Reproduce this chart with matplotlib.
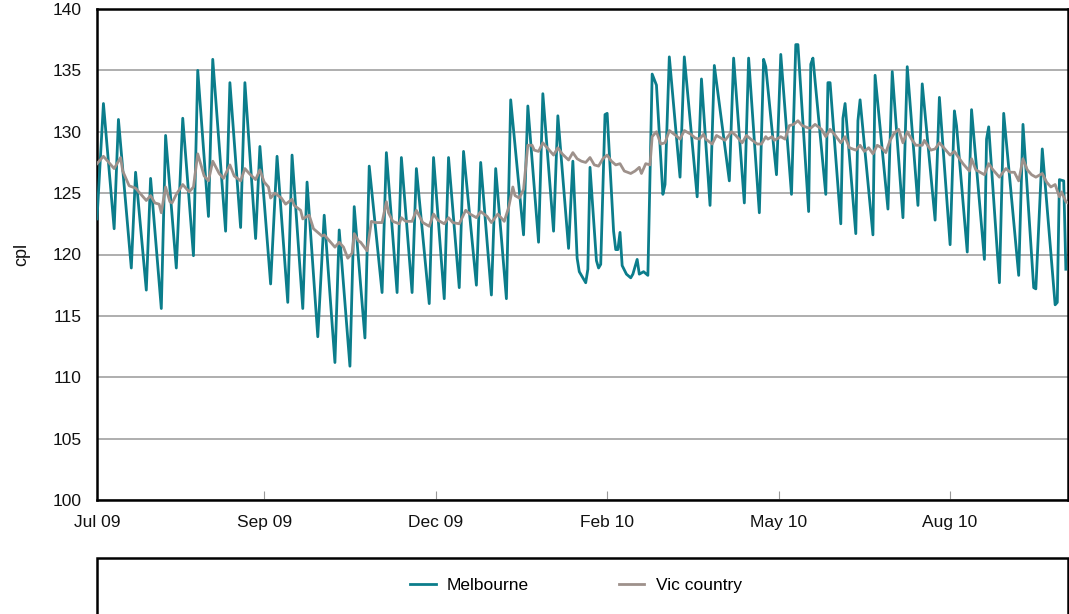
import numpy as np
import pandas as pd
import matplotlib
matplotlib.use("Agg")
import matplotlib.pyplot as plt
from matplotlib.patches import Rectangle

plt.rcParams['font.family'] = ['Liberation Sans', 'DejaVu Sans']

START = pd.Timestamp("2009-07-03")

# Melbourne: day offset from START, price (cpl)
mel_day = [0, 3, 8, 10, 16, 18, 23, 25, 30, 32, 37, 40, 45, 47, 52, 54, 60, 62, 67, 69,
           74, 76, 81, 84, 89, 91, 96, 98, 103, 106, 111, 113, 118, 120, 125, 127, 133, 135,
           140, 142, 147, 149, 155, 157, 162, 164, 169, 171, 177, 179, 184, 186, 191, 193,
           199, 201, 206, 208, 213, 215, 220, 222, 224, 225, 228, 229, 230, 233, 234, 235,
           237, 238, 241, 242, 243, 244, 245, 247, 249, 250, 252, 253, 255, 257, 259, 261,
           264, 265, 267, 272, 274, 280, 282, 286, 288, 295, 297, 302, 304, 309, 311, 312,
           317, 319, 324, 326, 327, 332, 333, 334, 340, 341, 342, 347, 348, 349, 354, 355,
           356, 362, 363, 369, 371, 376, 378, 383, 385, 391, 393, 398, 400, 401, 406, 408,
           414, 415, 416, 421, 423, 430, 432, 437, 438, 441, 447, 448, 449, 451, 452]
mel_val = [122.9, 132.3, 122.1, 131.0, 118.9, 126.7, 117.1, 126.2, 115.6, 129.7, 118.9, 131.1,
           119.9, 135.0, 123.1, 135.9, 121.9, 134.0, 122.2, 134.0, 121.3, 128.8, 117.6, 128.0,
           116.1, 128.1, 115.6, 125.9, 113.3, 123.2, 111.2, 122.0, 110.9, 123.9, 113.2, 127.2,
           116.9, 128.3, 116.9, 127.9, 116.9, 127.0, 116.0, 127.9, 116.4, 127.9, 117.3, 128.4,
           117.5, 127.5, 116.7, 127.0, 116.4, 132.6, 121.6, 132.1, 121.0, 133.1, 121.9, 131.3,
           120.5, 127.6, 119.7, 118.6, 117.7, 118.8, 127.1, 119.5, 118.9, 119.2, 131.4, 131.5,
           121.9, 120.4, 120.4, 121.8, 119.1, 118.4, 118.1, 118.4, 119.6, 118.4, 118.6, 118.3,
           134.7, 133.8, 124.9, 125.7, 136.1, 126.3, 136.1, 124.7, 134.3, 124.0, 135.4, 126.0,
           136.0, 124.2, 136.0, 123.4, 135.9, 135.3, 126.5, 136.3, 124.9, 137.1, 137.1, 123.5,
           135.5, 136.0, 124.9, 134.0, 134.0, 122.5, 131.1, 132.3, 121.7, 130.9, 132.6, 121.6,
           134.6, 123.7, 134.9, 123.0, 135.3, 124.0, 133.9, 122.8, 132.8, 120.8, 131.7, 130.5,
           120.2, 131.8, 119.6, 129.4, 130.4, 117.7, 131.5, 118.3, 130.6, 117.3, 117.2, 128.6,
           115.9, 116.1, 126.1, 126.0, 118.8]

# Vic country
vic_day = [0, 3, 5, 8, 11, 12, 15, 18, 20, 23, 25, 27, 29, 30, 32, 34, 35, 37, 40, 43, 45, 47,
           50, 52, 54, 57, 59, 62, 64, 67, 69, 71, 74, 76, 78, 80, 81, 83, 86, 88, 91, 92, 95,
           96, 99, 101, 103, 105, 106, 109, 111, 113, 115, 117, 119, 120, 122, 123, 126, 128,
           130, 133, 135, 136, 138, 141, 142, 144, 147, 149, 152, 155, 157, 159, 162, 164, 166,
           169, 172, 174, 177, 179, 182, 184, 187, 190, 192, 194, 195, 197, 199, 201, 203, 204,
           206, 208, 210, 213, 215, 217, 220, 222, 224, 226, 228, 230, 232, 234, 236, 238, 240,
           242, 244, 246, 249, 251, 253, 254, 256, 258, 259, 261, 263, 265, 267, 270, 272, 274,
           277, 279, 281, 283, 284, 287, 289, 291, 293, 296, 298, 301, 303, 305, 308, 310, 312,
           313, 315, 316, 319, 321, 323, 325, 327, 329, 332, 333, 335, 338, 340, 342, 344, 347,
           349, 351, 354, 356, 358, 360, 362, 364, 366, 368, 370, 372, 374, 376, 378, 380, 382,
           385, 386, 389, 391, 393, 396, 398, 400, 402, 404, 407, 408, 410, 412, 414, 416, 418,
           421, 424, 426, 428, 430, 432, 434, 436, 438, 441, 443, 445, 447, 449, 450, 452, 453]
vic_val = [127.4, 128.0, 127.6, 127.0, 127.9, 126.8, 125.6, 125.4, 125.0, 124.4, 124.8, 124.2,
           124.1, 123.4, 125.5, 124.3, 124.2, 124.9, 125.7, 125.1, 125.5, 128.2, 126.4, 126.0,
           127.6, 126.6, 126.2, 127.3, 126.4, 126.0, 127.0, 126.6, 126.1, 126.9, 125.9, 125.5,
           124.6, 125.0, 124.6, 124.1, 124.5, 124.0, 123.6, 122.9, 123.2, 122.1, 121.8, 121.5,
           121.6, 121.0, 120.6, 121.0, 120.6, 119.7, 120.1, 121.7, 121.1, 121.0, 120.3, 122.7,
           122.6, 122.6, 124.3, 123.4, 122.7, 122.5, 123.0, 122.7, 122.7, 123.6, 122.6, 122.3,
           123.3, 122.8, 122.5, 123.0, 122.6, 122.5, 123.6, 123.3, 123.0, 123.5, 123.1, 122.6,
           123.3, 122.7, 123.8, 125.5, 124.8, 124.6, 125.3, 128.9, 128.9, 128.5, 128.4, 129.1,
           128.7, 128.1, 128.7, 128.2, 127.7, 128.3, 127.8, 127.6, 127.5, 127.9, 127.3, 127.2,
           127.8, 128.1, 127.6, 127.3, 127.4, 126.8, 126.6, 126.8, 127.1, 126.6, 127.4, 127.3,
           129.6, 130.0, 129.0, 129.1, 130.1, 129.7, 129.4, 130.1, 129.8, 129.5, 129.4, 129.8,
           129.4, 129.0, 129.7, 129.5, 129.3, 130.0, 129.7, 129.1, 129.7, 129.4, 129.0, 129.0,
           129.6, 129.4, 129.6, 129.3, 129.6, 129.4, 130.5, 130.6, 130.9, 130.5, 130.3, 130.3,
           130.6, 130.2, 129.6, 130.2, 129.8, 129.1, 129.6, 128.7, 128.5, 128.9, 128.4, 128.7,
           128.2, 128.9, 128.7, 128.3, 129.3, 129.9, 130.2, 129.1, 130.0, 129.4, 128.9, 128.9,
           129.3, 128.5, 128.6, 129.1, 128.5, 128.1, 128.4, 127.9, 127.4, 126.8, 127.8, 126.9,
           126.7, 126.5, 127.4, 126.9, 126.3, 127.0, 126.7, 126.7, 126.0, 127.8, 126.9, 126.5,
           126.3, 126.6, 125.9, 125.5, 125.7, 124.7, 125.1, 124.3, 124.2]

tick_dates = ["2009-07-03", "2009-09-19", "2009-12-08", "2010-02-26", "2010-05-17", "2010-08-05"]
y_ticks = [100, 105, 110, 115, 120, 125, 130, 135, 140]

TEAL = "#0B7D8B"
GREY = "#9E918B"

mel_x = START + pd.to_timedelta(mel_day, unit="D")
vic_x = START + pd.to_timedelta(vic_day, unit="D")
ticks = pd.to_datetime(tick_dates)

fig = plt.figure(figsize=(10.69, 6.14), dpi=100)
ax = fig.add_axes([97 / 1069, 1 - 500 / 614, (1068 - 97) / 1069, (500 - 9) / 614])

ax.plot(mel_x, mel_val, color=TEAL, lw=2.0, label="Melbourne", zorder=3)
ax.plot(vic_x, vic_val, color=GREY, lw=2.0, label="Vic country", zorder=4)

ax.set_ylim(100, 140)
ax.set_yticks(y_ticks)
ax.set_xlim(START, START + pd.Timedelta(days=453))
ax.set_xticks(ticks)
ax.set_xticklabels([t.strftime("%b %y") for t in ticks])

ax.yaxis.grid(True, color="#A8A8A8", lw=1.3)
ax.set_axisbelow(True)
for s in ax.spines.values():
    s.set_linewidth(1.8)
    s.set_color("black")

ax.tick_params(axis="y", length=0, pad=11, labelsize=12.5, colors="#111111")
ax.tick_params(axis="x", direction="in", length=6.5, width=0.8, color="#999999",
               pad=11, labelsize=12.5, labelcolor="#111111")
ax.set_ylabel("cpl", fontsize=13, labelpad=16, color="#111111")

# legend box below the plot (runs off the bottom of the figure)
box = Rectangle((97 / 1069, 1 - 558 / 614 - 0.2), (1068 - 97) / 1069, 0.2,
                transform=fig.transFigure, fill=False, edgecolor="black", lw=1.8,
                clip_on=False)
fig.patches.append(box)

fig.legend(loc="center", bbox_to_anchor=(576 / 1069, 1 - 585 / 614), ncol=2,
           frameon=False, fontsize=12.5, handlelength=1.45, handletextpad=0.65,
           columnspacing=5.2, borderpad=0)

fig.savefig("out.png", dpi=100)
